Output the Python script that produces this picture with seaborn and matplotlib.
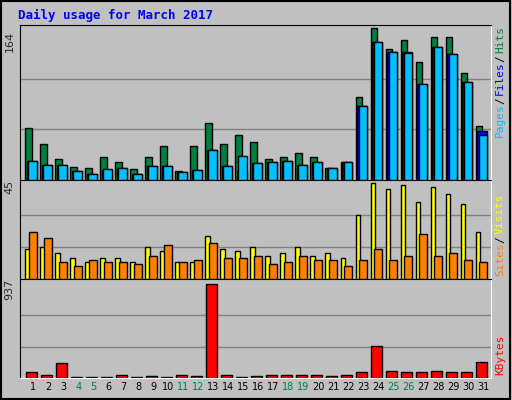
import matplotlib
matplotlib.use("Agg")
import matplotlib.pyplot as plt
import seaborn as sns
import numpy as np

days = list(range(1, 32))
hits = [56,39,23,14,13,25,19,12,25,37,10,37,62,39,49,41,23,25,29,25,13,19,90,164,141,151,127,154,154,116,58]
files = [20,16,16,10,7,11,13,7,15,15,9,11,32,15,10,18,19,20,16,19,13,19,80,149,138,138,104,143,136,106,53]
pages = [20,16,16,10,7,12,13,7,15,15,9,11,32,15,26,18,19,20,16,19,13,19,80,149,138,137,104,143,136,106,49]
visits = [14,15,12,10,8,10,10,8,15,13,8,8,20,14,13,15,11,12,15,11,12,10,30,45,42,44,36,43,40,35,22]
sites = [22,19,8,6,9,8,8,7,11,16,8,9,17,10,10,11,7,8,11,9,9,6,9,14,9,11,21,11,12,9,8]
kbytes = [55,34,147,14,14,14,34,14,24,14,34,24,937,34,14,24,34,34,34,34,24,34,55,321,65,55,55,65,55,55,157]
weekend = [4,5,11,12,18,19,25,26]

sns.set_style("white")
plt.rcParams['font.family'] = ['DejaVu Sans Mono', 'DejaVu Sans']
bg = "#c0c0c0"
fig = plt.figure(figsize=(5.12, 4.0), dpi=100, facecolor=bg)
W, H = 512, 400
def ax_at(x0, y0, x1, y1):
    return fig.add_axes([x0/W, 1-y1/H, (x1-x0)/W, (y1-y0)/H], facecolor=bg)

x = np.array(days, dtype=float)
ec = "black"
ax1 = ax_at(20, 25, 491, 180)
ax2 = ax_at(20, 180, 491, 279)
ax3 = ax_at(20, 279, 491, 378)

ax1.bar(x-0.53, hits, width=0.46, align='edge', color="#008040", edgecolor=ec, lw=1)
ax1.bar(x-0.44, files, width=0.66, align='edge', color="#0000ff", edgecolor=ec, lw=1)
ax1.bar(x-0.33, pages, width=0.55, align='edge', color="#00c0ff", edgecolor=ec, lw=1)
ax1.set_ylim(0, 164*1.02)
ax2.bar(x-0.53, visits, width=0.31, align='edge', color="#ffff00", edgecolor=ec, lw=1)
ax2.bar(x-0.27, sites, width=0.49, align='edge', color="#ff8000", edgecolor=ec, lw=1)
ax2.set_ylim(0, 45*1.03)
ax3.bar(x-0.49, kbytes, width=0.71, align='edge', color="#ff0000", edgecolor=ec, lw=1)
ax3.set_ylim(0, 937*1.05)

for ax, top in [(ax1, 164), (ax2, 45), (ax3, 937)]:
    ax.set_xlim(0.11, 31.5)
    for g in (top/3, 2*top/3):
        ax.axhline(g, color="#808080", lw=1, zorder=0)
    ax.set_yticks([])
    ax.set_xticks([])
    for s in ("top", "left"):
        ax.spines[s].set_color("black")
    for s in ("bottom", "right"):
        ax.spines[s].set_color("white")
    ax.text(-0.012, 1.0 if ax is not ax1 else 0.96, str(top), transform=ax.transAxes, rotation=90,
            ha='right', va='top', fontsize=8, family='DejaVu Sans')

ax3.set_xticks(days)
ax3.set_xticklabels([str(d) for d in days], fontsize=7, family='DejaVu Sans')
ax3.tick_params(length=0, pad=3)
for lab, d in zip(ax3.get_xticklabels(), days):
    lab.set_color("#008040" if d in weekend else "black")

fig.text(18/W, 1-15/H, "Daily usage for March 2017", color="#0000ff", fontsize=9,
         fontweight='bold', va='center', ha='left')

def vlabel(parts, xpix, ytop):
    y = ytop
    for txt, col in parts:
        t = fig.text(xpix/W, 1-y/H, txt, color=col, rotation=90, fontsize=8,
                     ha='center', va='top')
        y += len(txt)*6.2 + 2
vlabel([("Hits", "#008040"), ("/", "black"), ("Files", "#0000ff"), ("/", "black"), ("Pages", "#00c0ff")][::-1][::-1], 499, 28)
fig.texts.clear()
fig.text(18/W, 1-15/H, "Daily usage for March 2017", color="#0000ff", fontsize=9,
         fontweight='bold', va='center', ha='left')
def vlabel_bottom(parts, xpix, ybot):
    # parts from bottom to top
    y = ybot
    for txt, col in parts:
        fig.text(xpix/W, 1-y/H, txt, color=col, rotation=90, fontsize=8,
                 ha='center', va='bottom')
        y -= len(txt)*6.0 + 3
vlabel_bottom([("Pages", "#00c0ff"), ("/", "black"), ("Files", "#0000ff"), ("/", "black"), ("Hits", "#008040")], 500, 137)
vlabel_bottom([("Sites", "#ff8000"), ("/", "black"), ("Visits", "#ffff00")], 500, 276)
vlabel_bottom([("KBytes", "#ff0000")], 500, 375)

fig.add_artist(plt.Rectangle((0.002, 0.003), 0.994, 0.994, transform=fig.transFigure,
                             fill=False, edgecolor="black", lw=1.5))
fig.savefig("out.png", dpi=100, facecolor=bg)
